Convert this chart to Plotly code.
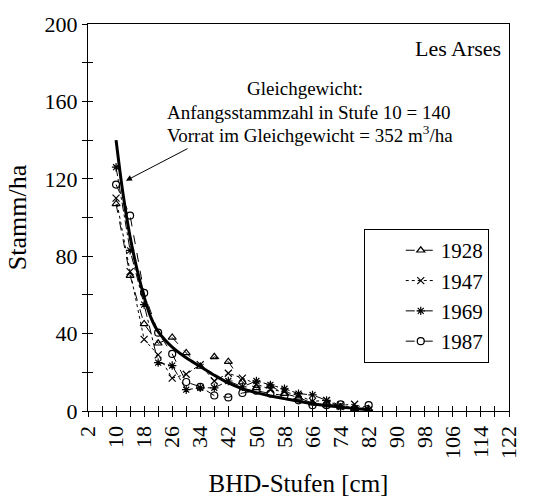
import plotly.graph_objects as go

# Diameter classes (cm)
dbh = [10, 14, 18, 22, 26, 30, 34, 38, 42, 46, 50, 54, 58, 62, 66, 70, 74, 78, 82]
n_1928 = [107, 70, 45, 35, 38, 30, 23, 28, 25.5, 15, 12, 13, 9, 7, 4, 3, 2, 1, 1]
n_1947 = [110, 72, 37, 29, 17, 19, 24, 15.5, 19.5, 17, 14, 11, 10, 8, 5, 5.5, 3, 3.5, 0.5]
n_1969 = [126, 83, 55, 25, 23.5, 11, 12, 12, 15.5, 12.5, 15.5, 13.5, 11.5, 9, 8.3, 5.5, 2, 1, 0.5]
n_1987 = [117, 101, 61, 40.5, 29.5, 15, 12.5, 8, 7, 9.3, 10.5, 9, 8, 5.5, 3, 3, 3.4, 1, 3]

# Equilibrium curve
dbh_eq = [10, 12, 14, 16, 18, 20, 22, 26, 30, 34, 38, 42, 46, 50, 54, 58, 62, 66, 70, 74, 78, 82]
n_eq = [140, 112, 90, 73, 59, 48, 41, 33, 27.5, 23, 18.5, 14.5, 11.5, 9.5, 7.8, 6.4, 5, 3.8, 2.8, 2, 1.3, 0.8]

FONT = "Liberation Serif"
fig = go.Figure()

fig.add_trace(go.Scatter(x=dbh_eq, y=n_eq, mode="lines", line=dict(color="black", width=3, shape="spline"),
                         showlegend=False, hoverinfo="skip"))

series = [
    ("1928", n_1928, "triangle-up-open", "dash"),
    ("1947", n_1947, "x-thin-open", "dot"),
    ("1969", n_1969, "asterisk-open", "dashdot"),
    ("1987", n_1987, "circle-open", "dash"),
]
for name, vals, sym, dash in series:
    fig.add_trace(go.Scatter(
        x=dbh, y=vals, name=name, mode="lines+markers",
        line=dict(color="black", width=1, dash=dash),
        marker=dict(symbol=sym, size=7, color="black", line=dict(color="black", width=1.2)),
    ))

# invisible trace for overlay axes (inner ticks)
fig.add_trace(go.Scatter(x=[2], y=[0], xaxis="x2", yaxis="y2", mode="markers",
                         marker=dict(opacity=0), showlegend=False, hoverinfo="skip"))

tickfont = dict(family=FONT, size=22, color="black")
fig.update_layout(
    width=533, height=504,
    margin=dict(l=88, r=13, t=17, b=79),
    paper_bgcolor="white", plot_bgcolor="white",
    font=dict(family=FONT, color="black"),
    xaxis=dict(range=[2, 122], tick0=2, dtick=8, tickangle=-90, ticks="outside", ticklen=5,
               tickcolor="black", showline=True, linecolor="black", linewidth=1.2, mirror=True,
               showgrid=False, zeroline=False, tickfont=tickfont,
               minor=dict(tick0=2, dtick=4, ticks="outside", ticklen=5, tickcolor="black"),
               title=dict(text="BHD-Stufen [cm]", font=dict(family=FONT, size=25), standoff=16)),
    yaxis=dict(range=[0, 200], dtick=40, ticks="outside", ticklen=5, tickcolor="black",
               showline=True, linecolor="black", linewidth=1.2, mirror=True,
               showgrid=False, zeroline=False, tickfont=tickfont,
               minor=dict(dtick=20, ticks="outside", ticklen=5, tickcolor="black"),
               title=dict(text="Stamm/ha", font=dict(family=FONT, size=26), standoff=10)),
    xaxis2=dict(range=[2, 122], overlaying="x", anchor="y", side="bottom", tick0=2, dtick=8,
                ticks="inside", ticklen=5, tickcolor="black", showticklabels=False,
                showgrid=False, zeroline=False, showline=False,
                minor=dict(tick0=2, dtick=4, ticks="inside", ticklen=5, tickcolor="black")),
    yaxis2=dict(range=[0, 200], overlaying="y", anchor="x", side="left", dtick=40,
                ticks="inside", ticklen=5, tickcolor="black", showticklabels=False,
                showgrid=False, zeroline=False, showline=False,
                minor=dict(dtick=20, ticks="inside", ticklen=5, tickcolor="black")),
    legend=dict(x=0.655, y=0.47, xanchor="left", yanchor="top",
                bordercolor="black", borderwidth=1, bgcolor="white",
                font=dict(family=FONT, size=21), indentation=36, tracegroupgap=0),
)

ann_font = dict(family=FONT, size=19, color="black")
fig.add_annotation(xref="paper", yref="paper", x=(311 - 88) / 432, y=(425 - 85) / 408,
                   text="Gleichgewicht:", showarrow=False, font=ann_font, xanchor="center", yanchor="middle")
fig.add_annotation(xref="paper", yref="paper", x=(167 - 88) / 432, y=(425 - 110) / 408,
                   text="Anfangsstammzahl in Stufe 10 = 140", showarrow=False, font=ann_font,
                   xanchor="left", yanchor="middle")
fig.add_annotation(xref="paper", yref="paper", x=(167 - 88) / 432, y=(425 - 133) / 408,
                   text="Vorrat im Gleichgewicht = 352 m<sup>3</sup>/ha", showarrow=False, font=ann_font,
                   xanchor="left", yanchor="middle")
fig.add_annotation(xref="paper", yref="paper", x=(514 - 88) / 432, y=(425 - 43) / 408,
                   text="Les Arses", showarrow=False, font=dict(family=FONT, size=22, color="black"),
                   xanchor="right", yanchor="middle")
# arrow pointing at the equilibrium curve
fig.add_annotation(x=12.8, y=119, ax=30.8, ay=136, xref="x", yref="y", axref="x", ayref="y",
                   text="", showarrow=True, arrowhead=2, arrowsize=1.2, arrowwidth=1, arrowcolor="black")

fig.write_html("out.html")
